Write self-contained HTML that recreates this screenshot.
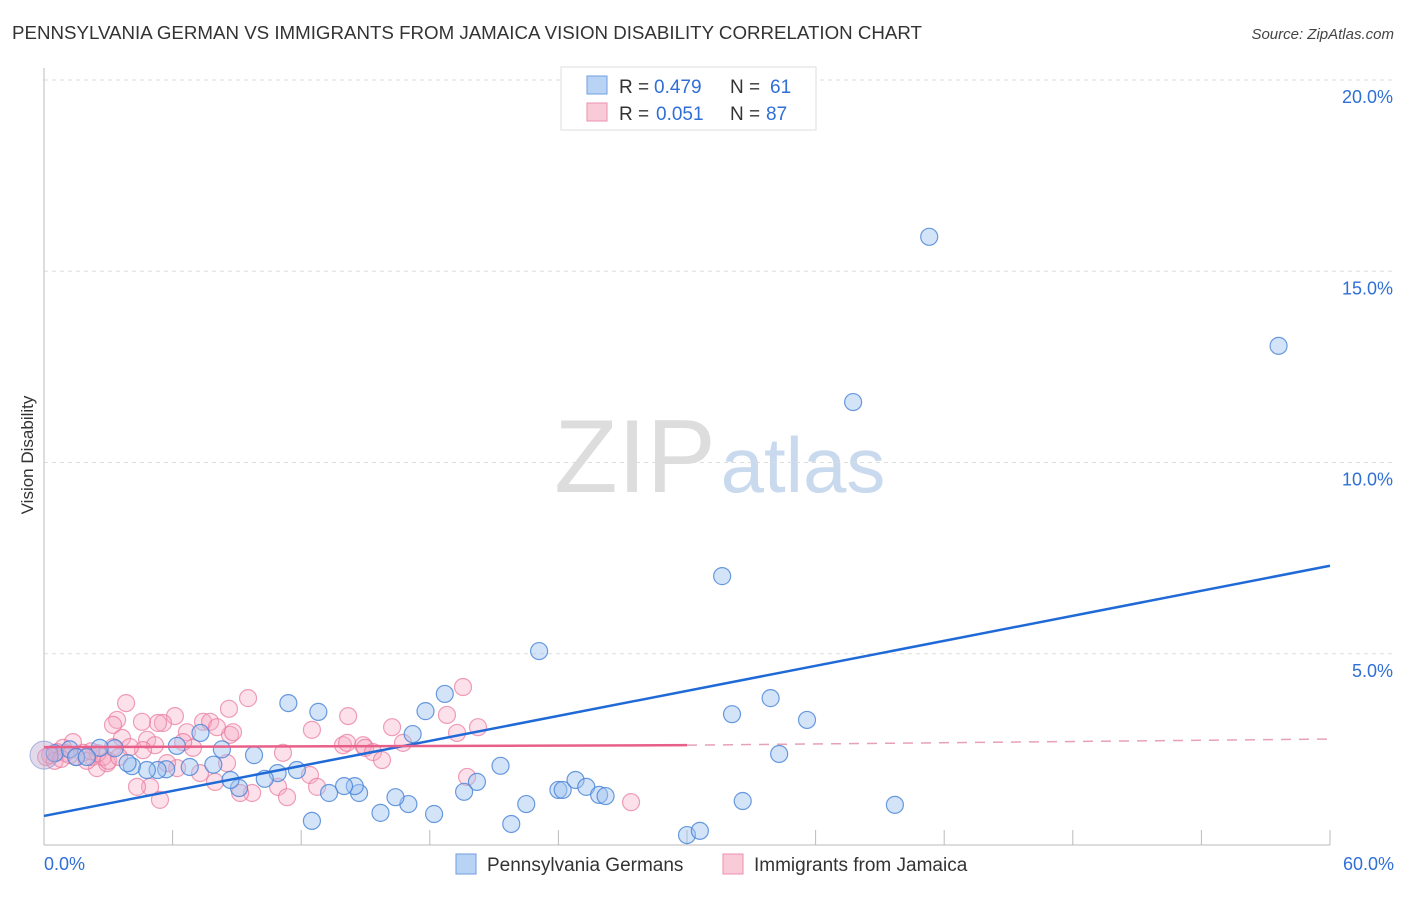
<!DOCTYPE html>
<html><head><meta charset="utf-8"><style>
body{margin:0;background:#fff;font-family:"Liberation Sans",sans-serif}
svg text{font-family:"Liberation Sans",sans-serif}
</style></head><body>
<svg id="chart" width="1406" height="892" xmlns="http://www.w3.org/2000/svg">
<text x="12" y="39" font-size="18" fill="#333" textLength="910" lengthAdjust="spacingAndGlyphs">PENNSYLVANIA GERMAN VS IMMIGRANTS FROM JAMAICA VISION DISABILITY CORRELATION CHART</text>
<text x="1394" y="39" font-size="15" fill="#444" text-anchor="end" font-style="italic">Source: ZipAtlas.com</text>
<text transform="translate(33,455) rotate(-90)" font-size="17" fill="#333" text-anchor="middle">Vision Disability</text>
<g>
<text x="635" y="492" font-size="104" fill="#ddd" font-family="Liberation Serif" text-anchor="middle">ZIP</text>
<text x="803" y="492" font-size="78" fill="#c9d9ee" text-anchor="middle">atlas</text>
</g>
<g id="grid"></g>
<g id="axes"></g>
<g id="points"></g>
<g id="trends"></g>
<g>
<rect x="561" y="67" width="255" height="63" fill="#fff" stroke="#ddd"/>
<rect x="587" y="76" width="20" height="18" fill="#b9d3f5" stroke="#6e9fe0"/>
<rect x="587" y="103" width="20" height="18" fill="#f9cad8" stroke="#ec92ae"/>
<text x="619" y="93" font-size="19" fill="#333">R =</text>
<text x="654" y="93" font-size="19" fill="#2f6fd6">0.479</text>
<text x="730" y="93" font-size="19" fill="#333">N =</text>
<text x="770" y="93" font-size="19" fill="#2f6fd6">61</text>
<text x="619" y="120" font-size="19" fill="#333">R =</text>
<text x="656" y="120" font-size="19" fill="#2f6fd6">0.051</text>
<text x="730" y="120" font-size="19" fill="#333">N =</text>
<text x="766" y="120" font-size="19" fill="#2f6fd6">87</text>
</g>
<g>
<rect x="456" y="854" width="20" height="20" fill="#b9d3f5" stroke="#6e9fe0"/>
<text x="487" y="871" font-size="19" fill="#333">Pennsylvania Germans</text>
<rect x="723" y="854" width="20" height="20" fill="#f9cad8" stroke="#ec92ae"/>
<text x="754" y="871" font-size="19" fill="#333">Immigrants from Jamaica</text>
</g>
</svg>
<script>
const yTicks=[5,10,15,20];
const yTickLabels=["5.0%","10.0%","15.0%","20.0%"];
const xTickVals=[0,6,12,18,24,30,36,42,48,54,60];
const xEndLabels=["0.0%","60.0%"];
const blueX=[41.3,57.6,37.75,31.64,23.1,33.9,32.1,35.6,34.3,32.6,39.7,30.0,30.6,18.7,17.8,17.2,21.3,20.2,19.6,21.8,22.5,24.0,24.2,24.8,25.3,25.9,26.2,18.2,17.0,16.4,15.7,14.7,14.5,14.0,13.3,12.5,12.8,11.4,11.8,10.9,10.3,9.8,9.1,8.7,8.3,7.9,6.8,7.3,6.2,5.7,5.3,4.8,4.1,3.9,3.3,2.6,0.5,1.2,1.5,2.0];
const blueY=[15.9,13.05,11.58,7.03,5.07,3.84,3.42,3.27,2.38,1.15,1.05,0.26,0.37,3.95,3.5,2.9,2.07,1.65,1.39,0.55,1.07,1.44,1.44,1.7,1.52,1.31,1.28,0.81,1.07,1.25,0.84,1.36,1.54,1.54,1.36,0.63,3.48,3.71,1.96,1.88,1.73,2.35,1.49,1.7,2.5,2.1,2.04,2.93,2.59,1.98,1.96,1.96,2.06,2.14,2.53,2.54,2.4,2.5,2.3,2.3];
const pinkX=[3.83,9.52,19.55,18.8,14.19,12.5,16.24,19.27,20.25,8.63,8.68,8.82,6.11,5.55,5.32,4.57,3.41,3.22,3.64,4.81,5.18,6.67,7.42,7.75,8.07,11.15,13.95,14.14,14.89,14.98,15.35,15.77,16.75,19.74,12.41,12.74,10.92,11.34,9.71,9.15,7.98,7.28,8.54,6.21,5.74,4.95,5.41,4.34,2.47,2.94,2.24,1.82,1.35,0.89,0.61,0.28,4.62,4.01,6.95,6.49,3.22,2.75,27.39,0.1,0.5,1.0,1.5,2.0,2.5,3.0,3.5,1.2,0.8,2.2];
const pinkY=[3.71,3.84,4.13,3.4,3.37,3.01,3.08,2.93,3.08,3.56,2.88,2.95,3.37,3.19,3.19,3.22,3.27,3.14,2.8,2.75,2.61,2.95,3.22,3.22,3.08,2.41,2.61,2.67,2.61,2.54,2.43,2.22,2.67,1.78,1.83,1.52,1.52,1.25,1.36,1.36,1.65,1.88,2.14,2.01,2.14,1.52,1.18,1.52,2.01,2.14,2.3,2.41,2.69,2.54,2.43,2.35,2.48,2.56,2.54,2.69,2.56,2.3,1.12,2.3,2.2,2.4,2.3,2.2,2.4,2.2,2.3,2.35,2.25,2.45];
const blueTrend=[0,0.76,60,7.3];
const pinkTrend=[0,2.56,30,2.61,60,2.77];
const NS="http://www.w3.org/2000/svg";
const X0=44,X1=1330,Y0=845,YTOP=80;
const xs=v=>X0+(v/60)*(X1-X0);
const ys=v=>Y0-(v/20)*(Y0-YTOP);
function mk(tag,attrs,parent){const e=document.createElementNS(NS,tag);for(const k in attrs)e.setAttribute(k,attrs[k]);document.getElementById(parent).appendChild(e);return e;}
yTicks.forEach((t,i)=>{
 const l=mk('line',{x1:X0,x2:1394,y1:ys(t),y2:ys(t),stroke:'#ddd','stroke-dasharray':'4,4'},'grid');
 
 
 const tx=mk('text',{x:1393,y:ys(t)+23,'font-size':18,fill:'#2f6fd6','text-anchor':'end'},'grid');
 tx.textContent=yTickLabels[i];
 
 
});
const ax=mk('line',{x1:X0,x2:X0,y1:68,y2:Y0,stroke:'#bbb'},'axes');


const bx=mk('line',{x1:X0,x2:X1,y1:Y0,y2:Y0,stroke:'#bbb'},'axes');


xTickVals.forEach(v=>{
 const t=mk('line',{x1:xs(v),x2:xs(v),y1:830,y2:Y0,stroke:'#bbb'},'axes');
 
 
});
const xl0=mk('text',{x:44,y:870,'font-size':18,fill:'#2f6fd6'},'axes');xl0.textContent=xEndLabels[0];


const xl1=mk('text',{x:1394,y:870,'font-size':18,fill:'#2f6fd6','text-anchor':'end'},'axes');xl1.textContent=xEndLabels[1];


pinkX.forEach((v,i)=>{
 const c=mk('circle',{cx:xs(v),cy:ys(pinkY[i]),r:8.5,fill:'rgba(246,170,195,0.35)',stroke:'rgba(232,120,155,0.7)','stroke-width':1.2},'points');
 
 
});
blueX.forEach((v,i)=>{
 const c=mk('circle',{cx:xs(v),cy:ys(blueY[i]),r:8.5,fill:'rgba(160,195,240,0.45)',stroke:'rgba(70,130,215,0.8)','stroke-width':1.2},'points');
 
 
});
const big=mk('circle',{cx:xs(0),cy:ys(2.35),r:14,fill:'rgba(190,170,210,0.45)',stroke:'rgba(120,140,210,0.6)'},'points');


const bt=mk('line',{x1:xs(blueTrend[0]),y1:ys(blueTrend[1]),x2:xs(blueTrend[2]),y2:ys(blueTrend[3]),stroke:'#1f6ad6','stroke-width':2.5},'trends');


const pt=mk('line',{x1:xs(pinkTrend[0]),y1:ys(pinkTrend[1]),x2:xs(pinkTrend[2]),y2:ys(pinkTrend[3]),stroke:'#e8608a','stroke-width':2.5},'trends');


const pd=mk('line',{x1:xs(pinkTrend[2]),y1:ys(pinkTrend[3]),x2:xs(pinkTrend[4]),y2:ys(pinkTrend[5]),stroke:'#e8a0b8','stroke-width':1.5,'stroke-dasharray':'10,8'},'trends');


</script>
</body></html>
